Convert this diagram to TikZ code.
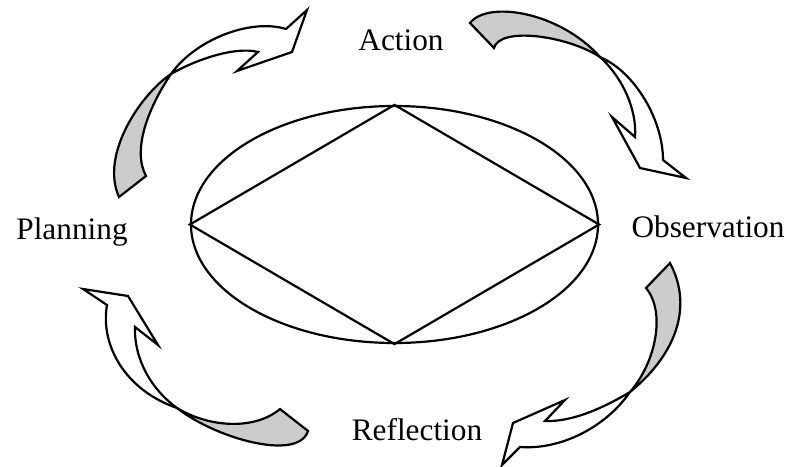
\documentclass[tikz,border=0pt]{standalone}
\usepackage{fontspec}
\setmainfont{Liberation Serif}
\usetikzlibrary{positioning, shapes.geometric}
\definecolor{tailgray}{HTML}{CCCCCC}

\begin{document}
\begin{tikzpicture}[x=0.5pt, y=-0.5pt, line width=1.1pt,
  band/.style={draw=black, fill=white, line join=miter},
  backside/.style={band, fill=tailgray},
  stage/.style={font=\fontsize{15.65}{18}\selectfont, inner sep=0pt, anchor=base}]
  \useasboundingbox (0,0) rectangle (791,466);

  % the ring with the diamond
  \node[draw, ellipse, minimum width=203.5pt, minimum height=118.5pt, inner sep=0pt] (ring) at (394.5,224.5) {};
  \draw (ring.north) -- (ring.east) -- (ring.south) -- (ring.west) -- cycle;

  % the four stages
  \node[stage] (action) at (401,50) {Action};
  \node[stage] (observation) at (708,237.5) {Observation};
  \node[stage] (reflection) at (417,440) {Reflection};
  \node[stage] (planning) at (72,239.5) {Planning};

  % planning -> action
  \path[backside] (119,197) .. controls (100,155) and (140,95) .. (171,74)
    .. controls (148,108) and (132,150) .. (146,176) -- cycle;
  \path[band] (171,74) .. controls (195,40) and (250,18) .. (286,29)
    -- (307,10) -- (292,52) -- (237,71) -- (258,52)
    .. controls (235,46) and (195,60) .. (171,74) -- cycle;

  % action -> observation
  \path[backside] (470,23) .. controls (488,0) and (560,12) .. (600,57)
    .. controls (568,36) and (500,26) .. (494,48) -- cycle;
  \path[band] (600,57) .. controls (635,72) and (663,120) .. (663,160)
    -- (686,178) -- (640,168) -- (612,117) -- (635,137)
    .. controls (637,110) and (623,78) .. (600,57) -- cycle;

  % observation -> reflection
  \path[backside] (670,263) .. controls (695,310) and (672,358) .. (630,392)
    .. controls (656,362) and (666,312) .. (646,288) -- cycle;
  \path[band] (630,392) .. controls (600,410) and (570,422) .. (545,421)
    -- (565,400) -- (513,423) -- (502,465) -- (520,447)
    .. controls (560,450) and (605,428) .. (630,392) -- cycle;

  % reflection -> planning
  \path[backside] (308,431) -- (280,409) .. controls (255,430) and (210,428) .. (177,408)
    .. controls (215,438) and (298,462) .. (308,431) -- cycle;
  \path[band] (177,408) .. controls (125,390) and (100,345) .. (107,305)
    -- (83,289) -- (128,296) -- (158,345) -- (135,327)
    .. controls (134,360) and (152,390) .. (177,408) -- cycle;
\end{tikzpicture}
\end{document}
